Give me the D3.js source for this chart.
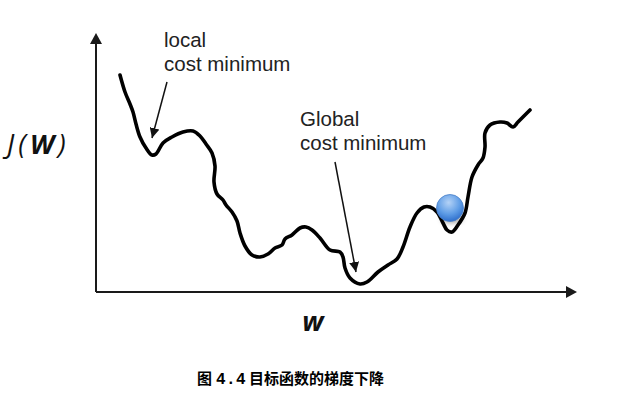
<!DOCTYPE html>
<html>
<head>
<meta charset="utf-8">
<style>
  body { margin: 0; background: #fff; }
  svg { display: block; }
</style>
</head>
<body>
<svg width="634" height="412"></svg>
<script src="https://cdn.jsdelivr.net/npm/d3@7"></script>
<script>
  // curve of the cost function (w along x, J upwards)
  var curveW = [24, 29, 34, 37, 40, 44, 50, 56, 60, 67, 76, 87, 97, 104, 110, 116, 119, 118, 121, 127,
    130, 136, 141, 144, 149, 156, 164, 172, 179, 186, 189, 196, 204, 210, 216, 224, 234, 244, 247, 249,
    254, 264, 271, 282, 292, 301, 307, 314, 321, 328, 334, 341, 347, 351, 356, 362, 369, 372, 376, 382,
    387, 389, 389, 394, 404, 411, 417, 422, 434];
  var curveJ = [217, 200, 188, 180, 168, 155, 144, 137, 138, 149, 155, 160, 161, 156, 148, 139, 126, 110, 98, 92,
    87, 80, 71, 59, 46, 37, 35, 38, 44, 47, 53, 57, 64, 65, 62, 54, 42, 40, 35, 24,
    14, 8, 10, 20, 27, 33, 45, 65, 79, 85, 85, 80, 69, 62, 60, 67, 79, 95, 115, 127,
    134, 145, 159, 167, 170, 169, 165, 170, 182];

  var ball = [354, 84];

  // annotation arrows: [w0, J0, w1, J1]
  var localArrow = [71, 210, 56, 154];
  var globalArrow = [239, 130, 260, 20];

  var localLines = ["local", "cost minimum"];
  var globalLines = ["Global", "cost minimum"];
  var captionHead = "图";
  var captionNum = ["4", ".", "4"];
  var captionBody = "目标函数的梯度下降";

  var svg = d3.select("svg");

  var x = d3.scaleLinear().domain([0, 480]).range([96, 576]);
  var y = d3.scaleLinear().domain([0, 258]).range([292, 34]);

  var defs = svg.append("defs");

  var grad = defs.append("radialGradient").attr("id", "ballGrad")
    .attr("cx", "45%").attr("cy", "30%").attr("r", "70%");
  grad.append("stop").attr("offset", "0%").attr("stop-color", "#b4d2f6");
  grad.append("stop").attr("offset", "60%").attr("stop-color", "#5f9de6");
  grad.append("stop").attr("offset", "100%").attr("stop-color", "#2f6fcc");

  defs.append("filter").attr("id", "blur")
    .attr("x", "-50%").attr("y", "-50%").attr("width", "200%").attr("height", "200%")
    .append("feGaussianBlur").attr("stdDeviation", 2.5);

  defs.append("marker").attr("id", "head")
    .attr("viewBox", "0 0 10 10").attr("refX", 10).attr("refY", 5)
    .attr("markerWidth", 10).attr("markerHeight", 10)
    .attr("markerUnits", "userSpaceOnUse")
    .attr("orient", "auto")
    .append("path").attr("d", "M0,0L10,5L0,10z").attr("fill", "#111");

  // axes
  var axes = svg.append("g").attr("stroke", "#1a1a1a").attr("stroke-width", 2);
  axes.append("line")
    .attr("x1", x(0)).attr("y1", y(0)).attr("x2", x(0)).attr("y2", y(248));
  axes.append("line")
    .attr("x1", x(0)).attr("y1", y(0)).attr("x2", x(470)).attr("y2", y(0));
  svg.append("path")
    .attr("d", "M" + x(0) + "," + (y(258) - 1) + "L" + (x(0) + 6) + "," + (y(258) + 10) +
      "L" + (x(0) - 6) + "," + (y(258) + 10) + "Z")
    .attr("fill", "#1a1a1a");
  svg.append("path")
    .attr("d", "M" + (x(480) + 1) + "," + y(0) + "L" + (x(480) - 10) + "," + (y(0) - 6) +
      "L" + (x(480) - 10) + "," + (y(0) + 6) + "Z")
    .attr("fill", "#1a1a1a");

  // cost curve
  var pts = curveW.map(function(w, i) { return [w, curveJ[i]]; });
  var line = d3.line()
    .x(function(d) { return x(d[0]); })
    .y(function(d) { return y(d[1]); })
    .curve(d3.curveCatmullRom.alpha(0.5));

  svg.append("path").datum(pts)
    .attr("d", line)
    .attr("fill", "none")
    .attr("stroke", "#000")
    .attr("stroke-width", 3.6)
    .attr("stroke-linecap", "round")
    .attr("stroke-linejoin", "round");

  // ball with soft shadow
  svg.append("ellipse")
    .attr("cx", x(ball[0]) + 2).attr("cy", y(ball[1]) + 11)
    .attr("rx", 11).attr("ry", 4)
    .attr("fill", "rgba(0,0,0,0.35)")
    .attr("filter", "url(#blur)");
  svg.append("circle")
    .attr("cx", x(ball[0])).attr("cy", y(ball[1]))
    .attr("r", 13.5)
    .attr("fill", "url(#ballGrad)")
    .attr("stroke", "#4a80c8")
    .attr("stroke-width", 0.8);

  // annotation arrows
  [localArrow, globalArrow].forEach(function(a) {
    svg.append("line")
      .attr("x1", x(a[0])).attr("y1", y(a[1]))
      .attr("x2", x(a[2])).attr("y2", y(a[3]))
      .attr("stroke", "#111")
      .attr("stroke-width", 1.5)
      .attr("marker-end", "url(#head)");
  });

  // labels
  var lab = svg.append("g")
    .attr("font-family", "'Liberation Sans', Arial, sans-serif")
    .attr("font-size", "20.5px")
    .attr("fill", "#222");

  lab.selectAll(".loc").data(localLines).enter().append("text")
    .attr("x", 164)
    .attr("y", function(d, i) { return 47 + i * 24; })
    .text(function(d) { return d; });

  lab.selectAll(".glob").data(globalLines).enter().append("text")
    .attr("x", 300)
    .attr("y", function(d, i) { return 126 + i * 24; })
    .text(function(d) { return d; });

  var jw = svg.append("text")
    .attr("x", 7).attr("y", 154)
    .attr("font-family", "'Open Sans', sans-serif")
    .attr("font-size", "27px")
    .attr("font-style", "italic")
    .attr("letter-spacing", "4")
    .attr("fill", "#111");
  jw.append("tspan").text("J(");
  jw.append("tspan").attr("font-weight", "bold").text("W");
  jw.append("tspan").text(")");

  svg.append("text")
    .attr("x", 313).attr("y", 331)
    .attr("text-anchor", "middle")
    .attr("font-family", "'Open Sans', sans-serif")
    .attr("font-size", "27px")
    .attr("font-style", "italic")
    .attr("font-weight", "bold")
    .attr("fill", "#111")
    .text("w");

  // caption: CJK head, spaced digits, CJK body
  var cap = svg.append("text")
    .attr("y", 384)
    .attr("font-family", "'Noto Sans CJK SC', sans-serif")
    .attr("font-size", "15px")
    .attr("font-weight", "bold")
    .attr("fill", "#000");
  cap.append("tspan").attr("x", 197).text(captionHead);
  cap.selectAll(".num").data(captionNum).enter().append("tspan")
    .attr("x", function(d, i) { return 216 + i * 10; })
    .attr("font-family", "'Liberation Mono', monospace")
    .attr("font-size", "16px")
    .text(function(d) { return d; });
  cap.append("tspan").attr("x", 249).text(captionBody);
</script>
</body>
</html>
